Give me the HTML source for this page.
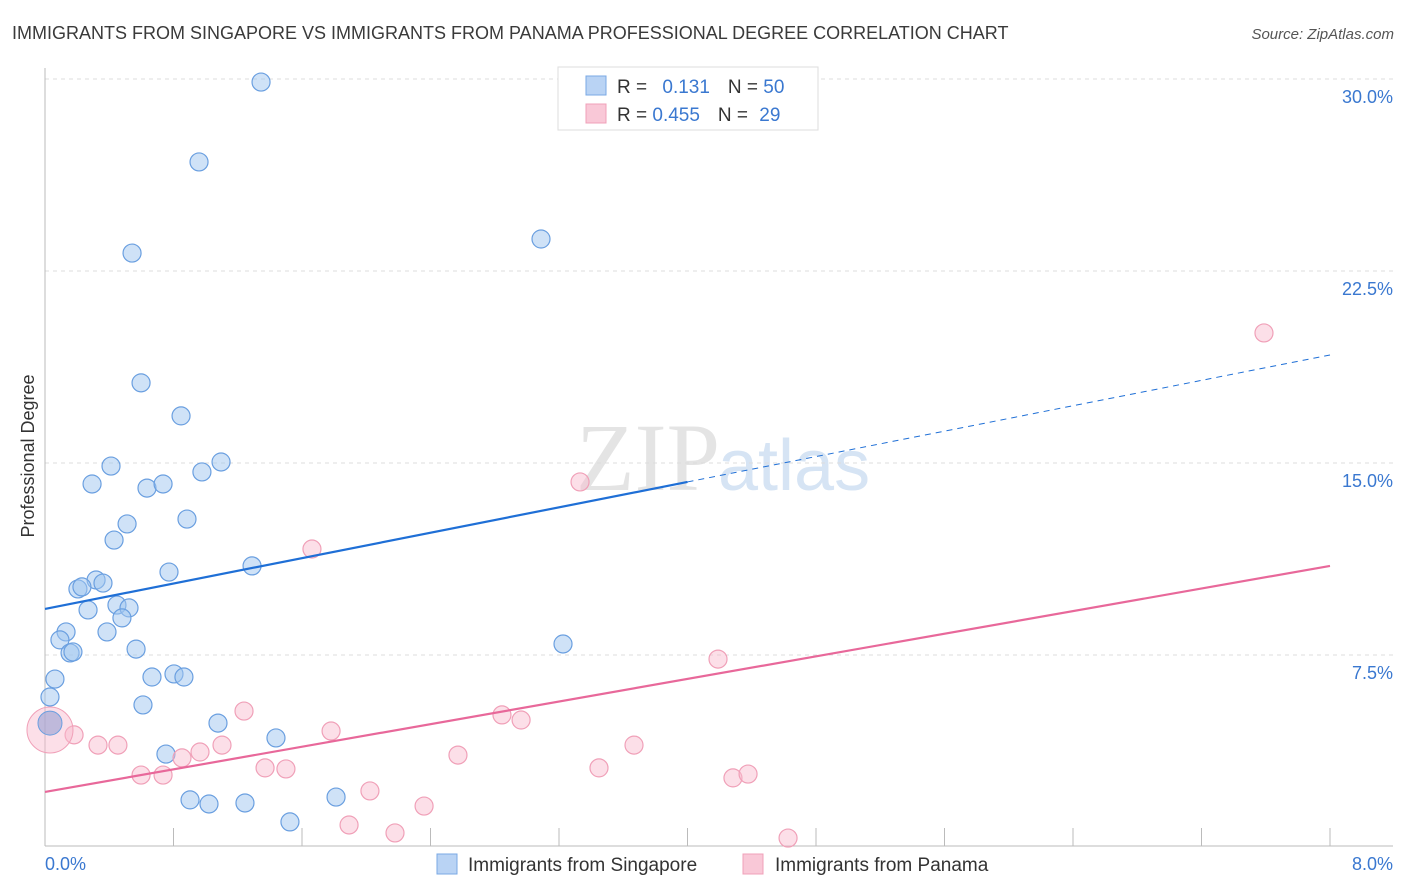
<!DOCTYPE html>
<html><head><meta charset="utf-8"><style>
body{margin:0;background:#fff;font-family:"Liberation Sans",sans-serif;}
svg{display:block}
</style></head><body>
<svg width="1406" height="892" viewBox="0 0 1406 892">
<text x="12" y="39" font-size="18" fill="#3a3a3a">IMMIGRANTS FROM SINGAPORE VS IMMIGRANTS FROM PANAMA PROFESSIONAL DEGREE CORRELATION CHART</text>
<text x="1394" y="39" font-size="15" fill="#555" font-style="italic" text-anchor="end">Source: ZipAtlas.com</text>
<text x="720" y="490" font-size="96" fill="#e4e4e4" text-anchor="end" font-family="Liberation Serif">ZIP</text>
<text x="718" y="490" font-size="72" fill="#d6e4f4">atlas</text>
<g id="grid"></g>
<g id="axes"></g>
<g id="marks"></g>
<text transform="translate(34,456) rotate(-90)" font-size="18" fill="#333" text-anchor="middle">Professional Degree</text>
<text x="45" y="870" font-size="18" fill="#3a78d0">0.0%</text>
<text x="1393" y="870" font-size="18" fill="#3a78d0" text-anchor="end">8.0%</text>
<g>
<rect x="558" y="67" width="260" height="63" fill="#fff" stroke="#ddd"/>
<rect x="586" y="76" width="20" height="19" fill="#b9d3f4" stroke="#7aa8e4"/>
<rect x="586" y="104" width="20" height="19" fill="#f9c8d7" stroke="#f0a0b8"/>
<text x="617" y="93" font-size="19" fill="#333">R = <tspan fill="#3a78d0" dx="10">0.131</tspan><tspan dx="18" fill="#333">N = </tspan><tspan fill="#3a78d0">50</tspan></text>
<text x="617" y="121" font-size="19" fill="#333">R = <tspan fill="#3a78d0">0.455</tspan><tspan dx="18" fill="#333">N = </tspan><tspan fill="#3a78d0" dx="6">29</tspan></text>
</g>
<g>
<rect x="437" y="854" width="20" height="20" fill="#b9d3f4" stroke="#7aa8e4"/>
<text x="468" y="871" font-size="19" fill="#333">Immigrants from Singapore</text>
<text x="775" y="871" font-size="19" fill="#333">Immigrants from Panama</text>
<rect x="743" y="854" width="20" height="20" fill="#f9c8d7" stroke="#f0a0b8"/>
</g>
</svg>
<script>
const yTicks=[7.5,15,22.5,30];
const yTickLabels=["7.5%","15.0%","22.5%","30.0%"];
const xTicks=[0,0.8,1.6,2.4,3.2,4.0,4.8,5.6,6.4,7.2,8.0];
const sgX=[1.345,0.959,0.542,3.088,0.598,0.847,0.411,1.096,0.977,0.293,0.635,0.735,0.511,0.884,0.430,0.772,1.289,0.318,0.205,0.361,0.230,0.268,0.448,0.523,0.479,0.386,0.131,0.093,0.567,0.156,0.174,3.225,0.062,0.031,0.803,0.865,0.666,0.610,1.077,1.438,0.753,0.903,1.021,1.245,1.812,1.525];
const sgY=[29.88,26.76,23.20,23.75,18.13,16.84,14.88,15.04,14.65,14.18,14.02,14.18,12.62,12.81,11.99,10.74,10.98,10.43,10.08,10.31,10.16,9.26,9.45,9.34,8.95,8.40,8.40,8.09,7.73,7.58,7.62,7.93,6.56,5.86,6.76,6.64,6.64,5.55,4.84,4.26,3.63,1.84,1.68,1.72,1.95,0.98];
const paX=[7.589,3.331,1.662,4.190,1.239,1.781,2.845,2.964,0.181,0.330,0.454,1.102,0.965,0.853,0.598,0.735,1.370,1.500,2.571,3.667,3.449,4.283,4.377,2.023,2.360,1.893,2.179,4.626];
const paY=[20.08,14.26,11.64,7.34,5.31,4.53,5.16,4.96,4.38,3.98,3.98,3.98,3.71,3.48,2.81,2.81,3.09,3.05,3.59,3.98,3.09,2.70,2.85,2.19,1.60,0.86,0.55,0.35];
const sgTrend=[9.30,19.22];
const paTrend=[2.15,10.98];
const sgSolidEnd=4.0;
const NS="http://www.w3.org/2000/svg";
const X=v=>45+v/8*1285;
const Y=v=>847-v/7.5*192;
function mk(tag,attrs,parent){const e=document.createElementNS(NS,tag);for(const k in attrs)e.setAttribute(k,attrs[k]);document.getElementById(parent).appendChild(e);return e;}
yTicks.forEach((t,i)=>{
 const g=mk('line',{x1:45,x2:1393,y1:Y(t),y2:Y(t),stroke:'#ddd','stroke-dasharray':'4,4'},'grid');
 
 
 const l=mk('text',{x:1393,y:Y(t)+24,'font-size':18,fill:'#3a78d0','text-anchor':'end'},'grid');
 l.textContent=yTickLabels[i];
 
 
});
const ya=mk('line',{x1:45,x2:45,y1:68,y2:846,stroke:'#bbb'},'axes');


const xa=mk('line',{x1:45,x2:1393,y1:846,y2:846,stroke:'#bbb'},'axes');


xTicks.forEach(t=>{
 const e=mk('line',{x1:X(t),x2:X(t),y1:828,y2:846,stroke:'#bbb'},'axes');
 
 
});
sgX.forEach((x,i)=>{
 const c=mk('circle',{cx:X(x),cy:Y(sgY[i]),r:9,fill:'rgba(160,198,240,0.5)',stroke:'#6a9fe0','stroke-width':1.2},'marks');
 
 
});
paX.forEach((x,i)=>{
 const c=mk('circle',{cx:X(x),cy:Y(paY[i]),r:9,fill:'rgba(248,184,204,0.45)',stroke:'#f0a0b8','stroke-width':1.2},'marks');
 
 
});
const bigP=mk('circle',{cx:X(0.031),cy:Y(4.57),r:23,fill:'rgba(248,184,204,0.45)',stroke:'#f0a0b8'},'marks');


const bigS=mk('circle',{cx:X(0.031),cy:Y(4.84),r:12,fill:'rgba(150,160,210,0.6)',stroke:'#6a9fe0'},'marks');


const sgAt=v=>sgTrend[0]+(sgTrend[1]-sgTrend[0])*v/8;
const s1=mk('line',{x1:X(0),y1:Y(sgTrend[0]),x2:X(sgSolidEnd),y2:Y(sgAt(sgSolidEnd)),stroke:'#1f6fd6','stroke-width':2.2},'marks');


const s2=mk('line',{x1:X(sgSolidEnd),y1:Y(sgAt(sgSolidEnd)),x2:X(8),y2:Y(sgTrend[1]),stroke:'#1f6fd6','stroke-width':1,'stroke-dasharray':'6,5'},'marks');


const p1=mk('line',{x1:X(0),y1:Y(paTrend[0]),x2:X(8),y2:Y(paTrend[1]),stroke:'#e8689a','stroke-width':2.2},'marks');


</script>
</body></html>
